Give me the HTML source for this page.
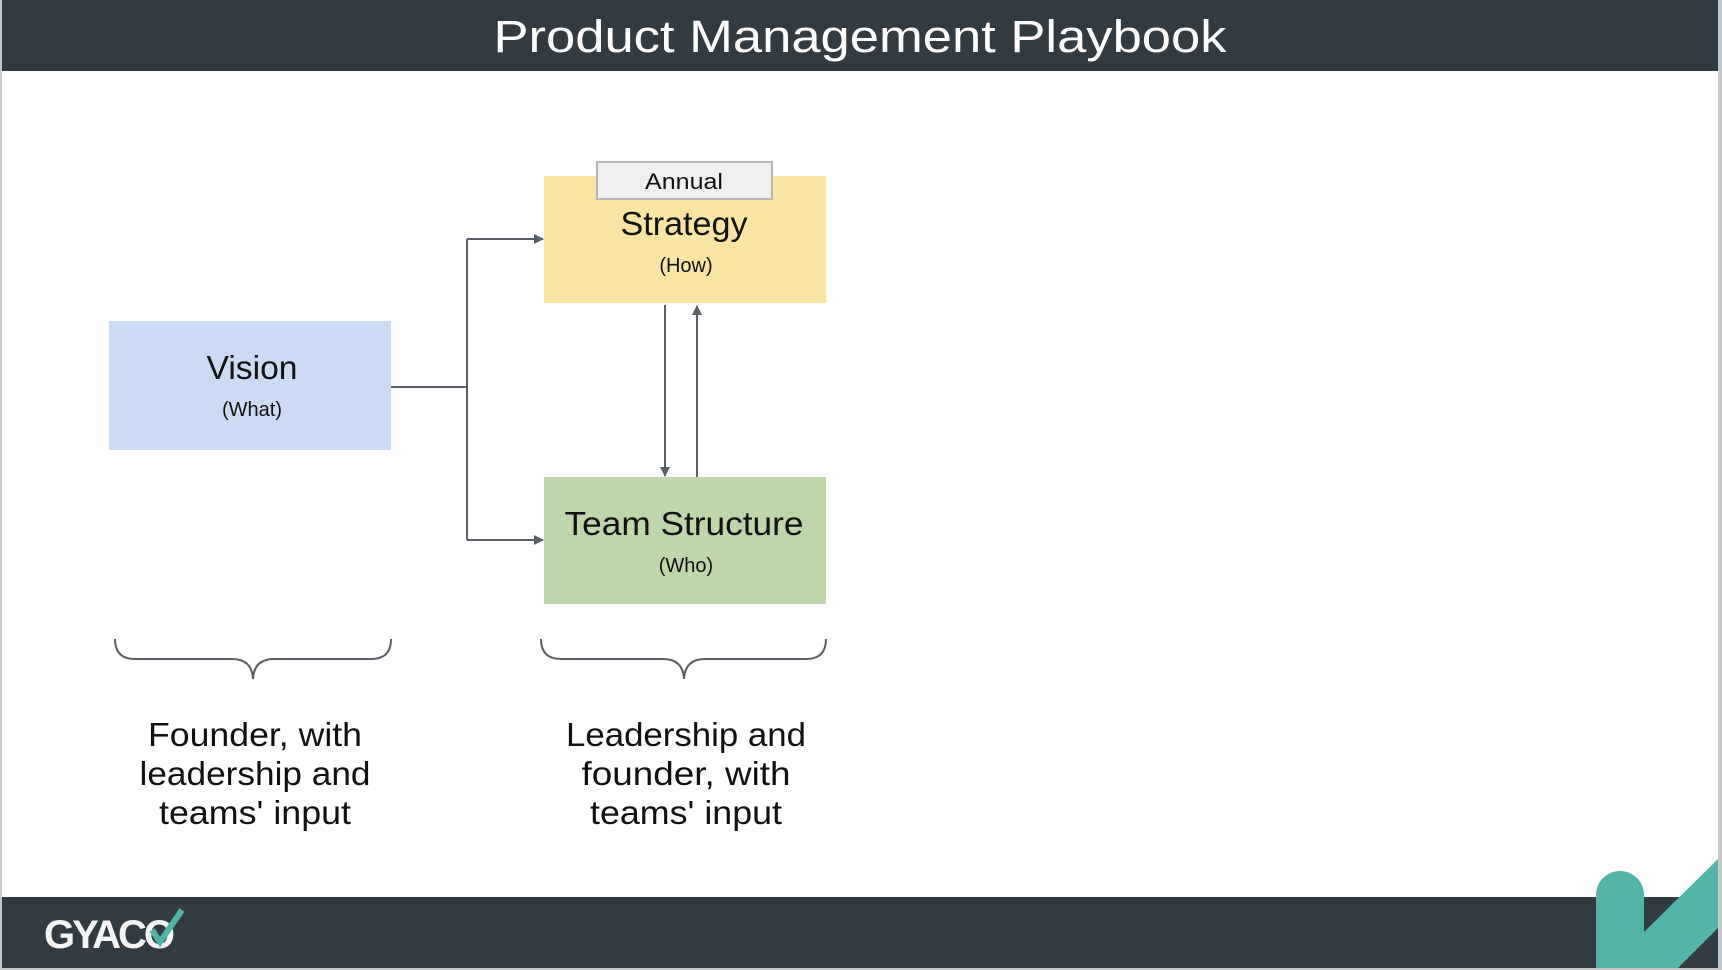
<!DOCTYPE html>
<html><head><meta charset="utf-8"><style>
html,body{margin:0;padding:0;background:#fff}
svg{display:block}
text{font-family:"Liberation Sans",sans-serif;fill:#111}
</style></head><body>
<svg width="1722" height="970" viewBox="0 0 1722 970" xmlns="http://www.w3.org/2000/svg">
<defs>
<marker id="a" markerWidth="10" markerHeight="10" refX="9" refY="5" orient="auto" markerUnits="userSpaceOnUse">
<path d="M0,0 L10,5 L0,10 z" fill="#595f66"/></marker>
</defs>
<rect x="0" y="0" width="1722" height="970" fill="#c8c8c8"/>
<rect x="2" y="0" width="1716" height="968" fill="#fff"/>
<rect x="2" y="0" width="1716" height="71" fill="#323a42"/>
<text x="860" y="52" text-anchor="middle" font-size="45" textLength="733" lengthAdjust="spacingAndGlyphs" style="fill:#fff">Product Management Playbook</text>
<rect x="2" y="897" width="1716" height="71" fill="#323a42"/>
<text x="44" y="948" font-size="40" font-weight="bold" style="fill:#f4f4f4;letter-spacing:-3px">GYACO</text>
<path d="M152,930 L160,942 L182,910" stroke="#4fb3a8" stroke-width="6" fill="none"/>
<path d="M1596,970 L1596,895 A24,24 0 0 1 1644,895 L1644,932 L1718,859 L1718,928 L1678,968 L1596,968z" fill="#52b3a8"/>
<rect x="109" y="321" width="282" height="129" fill="#cbdbf5"/>
<rect x="544" y="176" width="282" height="127" fill="#f9e4a2"/>
<rect x="544" y="477" width="282" height="127" fill="#bed7aa"/>
<rect x="597" y="162" width="175" height="37" fill="#efefef" stroke="#b5b5b5" stroke-width="2"/>
<text x="684" y="189" text-anchor="middle" font-size="22" textLength="78" lengthAdjust="spacingAndGlyphs">Annual</text>
<text x="252" y="379" text-anchor="middle" font-size="33" textLength="91" lengthAdjust="spacingAndGlyphs">Vision</text>
<text x="252" y="416" text-anchor="middle" font-size="20">(What)</text>
<text x="684" y="235" text-anchor="middle" font-size="33" textLength="127" lengthAdjust="spacingAndGlyphs">Strategy</text>
<text x="686" y="272" text-anchor="middle" font-size="20">(How)</text>
<text x="684" y="535" text-anchor="middle" font-size="33" textLength="239" lengthAdjust="spacingAndGlyphs">Team Structure</text>
<text x="686" y="572" text-anchor="middle" font-size="20">(Who)</text>
<g stroke="#595f66" stroke-width="2" fill="none">
<path d="M391,387 L467,387"/>
<path d="M467,239 L467,540"/>
<path d="M467,239 L543,239" marker-end="url(#a)"/>
<path d="M467,540 L543,540" marker-end="url(#a)"/>
<path d="M665,305 L665,476" marker-end="url(#a)"/>
<path d="M697,477 L697,306" marker-end="url(#a)"/>
<path d="M115,639 Q115,659 135,659 L232,659 Q252,659 253,679 Q254,659 274,659 L371,659 Q391,659 391,639"/>
<path d="M541,639 Q541,659 561,659 L663,659 Q683,659 684,679 Q685,659 705,659 L806,659 Q826,659 826,639"/>
</g>
<g font-size="33" text-anchor="middle">
<text x="255" y="746" textLength="214" lengthAdjust="spacingAndGlyphs">Founder, with</text>
<text x="255" y="785" textLength="231" lengthAdjust="spacingAndGlyphs">leadership and</text>
<text x="255" y="824" textLength="192" lengthAdjust="spacingAndGlyphs">teams' input</text>
<text x="686" y="746" textLength="240" lengthAdjust="spacingAndGlyphs">Leadership and</text>
<text x="686" y="785" textLength="209" lengthAdjust="spacingAndGlyphs">founder, with</text>
<text x="686" y="824" textLength="192" lengthAdjust="spacingAndGlyphs">teams' input</text>
</g>
</svg>
</body></html>
